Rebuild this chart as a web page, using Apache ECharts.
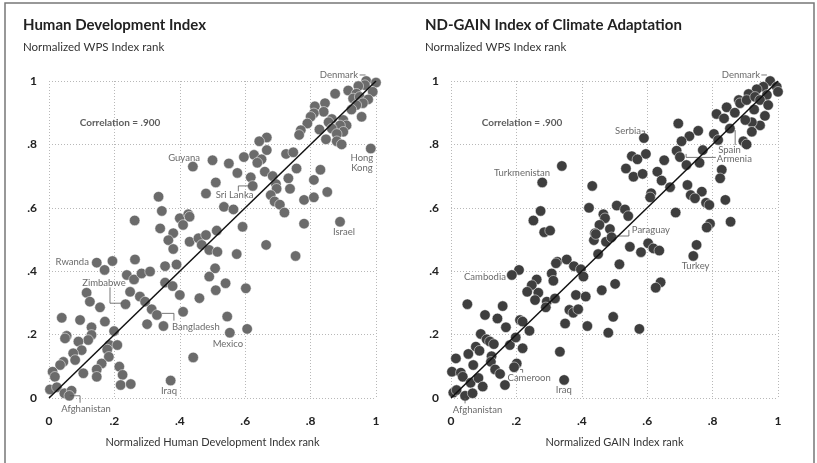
<!DOCTYPE html>
<html>
<head>
<meta charset="utf-8">
<script src="https://cdn.jsdelivr.net/npm/echarts@6/dist/echarts.min.js"></script>
<style>
html,body{margin:0;padding:0;background:#fff;}
#chart{width:817px;height:463px;}
</style>
</head>
<body>
<div id="chart"></div>
<script>
// ---- Data ----
const tickValues = [0, 0.2, 0.4, 0.6, 0.8, 1];
const tickLabels = ['0', '.2', '.4', '.6', '.8', '1'];

const hdiX = [0.44,0.50,0.55,0.51,0.48,0.335,0.345,0.262,0.40,0.426,0.43,0.41,0.34,0.38,0.513,
0.97,1.0,0.99,0.966,0.946,0.915,0.875,0.94,0.93,0.95,0.976,0.96,0.94,0.925,0.956,0.844,0.813,0.84,0.81,0.80,0.79,0.77,0.765,0.865,0.855,0.90,0.91,0.89,0.865,0.827,0.90,0.88,0.847,0.88,0.895,0.984,
0.666,0.643,0.666,0.725,0.747,0.627,0.596,0.65,0.637,0.576,0.66,0.684,0.757,0.617,0.83,0.81,0.732,0.694,0.696,0.623,0.737,0.851,0.678,0.69,0.706,0.72,0.78,0.81,0.535,0.564,0.78,0.592,0.89,
0.146,0.194,0.17,0.263,0.238,0.26,0.283,0.309,0.355,0.39,0.365,0.38,0.43,0.457,0.48,0.467,0.49,0.515,0.508,0.49,0.54,0.51,0.355,0.378,0.40,0.46,0.41,0.248,0.278,0.294,0.314,0.33,0.30,0.35,0.234,
0.115,0.125,0.156,0.171,0.095,0.039,0.13,0.13,0.12,0.09,0.054,0.049,0.10,0.074,0.08,0.044,0.034,0.011,0.018,0.105,0.003,0.024,0.047,0.069,0.062,
0.185,0.178,0.183,0.209,0.199,0.161,0.146,0.146,0.215,0.225,0.219,0.25,0.372,0.441,
0.664,0.754,0.574,0.602,0.545,0.606,0.553];
const hdiY = [0.73,0.75,0.74,0.68,0.645,0.635,0.59,0.56,0.567,0.58,0.572,0.546,0.535,0.52,0.528,
1.0,0.995,0.966,0.987,0.984,0.97,0.96,0.96,0.945,0.95,0.942,0.93,0.924,0.91,0.887,0.93,0.92,0.903,0.898,0.887,0.866,0.845,0.83,0.88,0.87,0.877,0.86,0.86,0.85,0.847,0.84,0.833,0.816,0.81,0.80,0.787,
0.822,0.81,0.782,0.77,0.775,0.767,0.76,0.753,0.742,0.71,0.714,0.70,0.724,0.696,0.72,0.688,0.693,0.675,0.66,0.669,0.66,0.65,0.64,0.62,0.61,0.585,0.625,0.633,0.603,0.595,0.55,0.54,0.556,
0.427,0.432,0.404,0.437,0.388,0.374,0.393,0.399,0.416,0.421,0.498,0.47,0.493,0.504,0.514,0.483,0.467,0.461,0.409,0.383,0.362,0.34,0.364,0.353,0.325,0.315,0.272,0.335,0.32,0.304,0.28,0.262,0.233,0.227,0.296,
0.332,0.304,0.286,0.241,0.246,0.253,0.223,0.199,0.183,0.178,0.196,0.188,0.151,0.141,0.12,0.114,0.104,0.083,0.067,0.078,0.027,0.034,0.015,0.023,0.007,
0.167,0.153,0.13,0.167,0.211,0.109,0.09,0.067,0.099,0.073,0.041,0.044,0.055,0.128,
0.483,0.448,0.454,0.346,0.257,0.218,0.206];

const gainX = [0.339,0.279,0.432,0.422,0.507,0.274,0.252,0.285,0.303,0.466,0.471,0.454,0.486,0.44,
0.976,0.996,1.0,0.955,0.935,0.91,0.88,0.884,0.904,0.93,0.966,0.945,0.97,0.927,0.96,0.945,0.92,0.90,0.92,0.894,0.904,0.843,0.868,0.812,0.835,0.853,0.804,0.817,0.77,
0.695,0.756,0.729,0.705,0.59,0.69,0.70,0.72,0.76,0.652,0.596,0.553,0.57,0.535,0.558,0.586,0.631,0.644,0.828,0.823,0.67,0.723,0.767,0.612,0.609,0.733,0.746,0.78,0.79,0.839,0.532,0.542,0.687,0.855,0.792,0.782,
0.547,0.581,0.603,0.619,0.637,0.751,0.741,0.515,0.502,0.461,0.641,0.626,0.496,0.481,0.576,0.474,0.491,
0.437,0.443,0.45,0.208,0.186,0.325,0.354,0.321,0.376,0.397,0.405,0.308,0.313,0.262,0.247,0.233,0.267,0.257,0.293,0.318,0.29,0.382,0.412,0.362,0.374,0.389,0.349,0.417,
0.05,0.158,0.104,0.142,0.168,0.211,0.219,0.24,0.091,0.109,0.119,0.131,0.076,0.087,0.053,0.18,0.198,0.219,0.124,0.122,0.015,0.068,0.135,0.15,0.201,0.193,
0.003,0.03,0.036,0.06,0.084,0.097,0.165,0.333,0.346,0.007,0.017,0.043,0.066];
const gainY = [0.732,0.68,0.669,0.60,0.607,0.59,0.56,0.523,0.528,0.58,0.567,0.546,0.533,0.52,
1.0,0.982,0.966,0.982,0.974,0.959,0.94,0.93,0.94,0.95,0.956,0.94,0.924,0.91,0.89,0.86,0.87,0.877,0.84,0.81,0.80,0.917,0.90,0.896,0.882,0.85,0.833,0.814,0.782,
0.866,0.843,0.826,0.81,0.82,0.78,0.76,0.735,0.742,0.75,0.77,0.763,0.753,0.724,0.698,0.707,0.714,0.686,0.72,0.693,0.665,0.672,0.651,0.646,0.633,0.64,0.63,0.616,0.609,0.625,0.595,0.574,0.585,0.556,0.55,0.538,
0.477,0.46,0.488,0.472,0.465,0.483,0.448,0.422,0.36,0.34,0.365,0.348,0.256,0.206,0.218,0.493,0.507,
0.498,0.517,0.454,0.404,0.388,0.43,0.437,0.425,0.416,0.406,0.383,0.393,0.37,0.374,0.356,0.335,0.332,0.309,0.304,0.314,0.286,0.325,0.32,0.278,0.269,0.28,0.235,0.227,
0.296,0.29,0.262,0.251,0.223,0.246,0.241,0.212,0.202,0.185,0.178,0.17,0.162,0.149,0.139,0.167,0.191,0.157,0.132,0.114,0.125,0.104,0.09,0.076,0.109,0.097,
0.083,0.08,0.067,0.048,0.063,0.036,0.041,0.146,0.057,0.017,0.025,0.007,0.015];

// Country annotations: text anchor (data units), alignment, optional leader path
const hdiNotes = [
  {name:'Denmark', x:0.945, y:1.019, align:'right', path:[[0.95,1.019],[0.968,1.019]]},
  {name:'Guyana', x:0.413, y:0.757, align:'center'},
  {name:'Sri Lanka', x:0.51, y:0.64, align:'left', path:[[0.579,0.652],[0.579,0.669],[0.612,0.669]]},
  {name:'Hong\nKong', x:0.957, y:0.741, align:'center'},
  {name:'Israel', x:0.902, y:0.524, align:'center'},
  {name:'Rwanda', x:0.122, y:0.428, align:'right'},
  {name:'Zimbabwe', x:0.168, y:0.362, align:'center', path:[[0.1865,0.349],[0.1865,0.299],[0.222,0.299]]},
  {name:'Bangladesh', x:0.376, y:0.223, align:'left', path:[[0.345,0.267],[0.382,0.267],[0.382,0.244]]},
  {name:'Mexico', x:0.547, y:0.172, align:'center'},
  {name:'Iraq', x:0.367, y:0.022, align:'center'},
  {name:'Afghanistan', x:0.113, y:-0.035, align:'center', path:[[0.064,0.007],[0.095,0.007],[0.095,-0.015]]}
];
const gainNotes = [
  {name:'Denmark', x:0.945, y:1.019, align:'right', path:[[0.949,1.019],[0.966,1.019]]},
  {name:'Serbia', x:0.581, y:0.842, align:'right', path:[[0.583,0.842],[0.592,0.842],[0.592,0.83]]},
  {name:'Spain', x:0.817, y:0.782, align:'left', path:[[0.869,0.845],[0.869,0.798]]},
  {name:'Armenia', x:0.813, y:0.753, align:'left', path:[[0.719,0.77],[0.719,0.759],[0.81,0.759]]},
  {name:'Turkmenistan', x:0.217, y:0.709, align:'center'},
  {name:'Paraguay', x:0.553, y:0.53, align:'left', path:[[0.495,0.511],[0.544,0.511],[0.544,0.53]]},
  {name:'Cambodia', x:0.168, y:0.383, align:'right'},
  {name:'Turkey', x:0.748, y:0.417, align:'center'},
  {name:'Cameroon', x:0.239, y:0.062, align:'center', path:[[0.211,0.09],[0.219,0.09],[0.219,0.08]]},
  {name:'Iraq', x:0.345, y:0.025, align:'center'},
  {name:'Afghanistan', x:0.081, y:-0.038, align:'center', path:[[0.043,0.0],[0.043,-0.017]]}
];

const titles = ['Human Development Index', 'ND-GAIN Index of Climate Adaptation'];
const subtitles = ['Normalized WPS Index rank', 'Normalized WPS Index rank'];
const xNames = ['Normalized Human Development Index rank', 'Normalized GAIN Index rank'];
const corrText = 'Correlation = .900';
const corrPos = [0.217, 0.868];

// ---- Build ----
const FONT = 'Lato, "Open Sans", sans-serif';
const fmt = v => { const i = tickValues.findIndex(t => Math.abs(t - v) < 1e-9); return i >= 0 ? tickLabels[i] : ''; };

function zip(a, b) { return a.map((v, i) => [v, b[i]]); }

const gridLine = {show: true, lineStyle: {type: [1, 2], color: '#b8b8b8', width: 1}};

function axisX(idx) {
  return {
    gridIndex: idx, type: 'value', min: 0, max: 1, interval: 0.2,
    axisLine: {show: false}, axisTick: {show: false},
    axisLabel: {formatter: fmt, margin: 17, color: '#222', fontFamily: FONT, fontWeight: 'bold', fontSize: 12},
    splitLine: gridLine,
    name: xNames[idx], nameLocation: 'middle', nameGap: 39,
    nameTextStyle: {color: '#333', fontFamily: FONT, fontSize: 11}
  };
}
function axisY(idx) {
  return {
    gridIndex: idx, type: 'value', min: 0, max: 1, interval: 0.2,
    axisLine: {show: false}, axisTick: {show: false},
    axisLabel: {formatter: fmt, margin: 12, color: '#222', fontFamily: FONT, fontWeight: 'bold', fontSize: 12},
    splitLine: gridLine
  };
}

const series = [];
[[hdiX, hdiY, hdiNotes, '#6b6b6b'], [gainX, gainY, gainNotes, '#3e3e3e']].forEach(([xs, ys, notes, col], i) => {
  series.push({
    type: 'scatter', xAxisIndex: i, yAxisIndex: i, data: zip(xs, ys),
    symbolSize: 10.5, itemStyle: {color: col, opacity: 1, borderColor: '#fff', borderWidth: 0.5},
    z: 2, silent: true
  });
  series.push({
    type: 'line', xAxisIndex: i, yAxisIndex: i, data: [[0, 0], [1, 1]],
    symbol: 'none', lineStyle: {color: '#111', width: 1.5}, z: 4, silent: true
  });
  series.push({
    type: 'lines', coordinateSystem: 'cartesian2d', xAxisIndex: i, yAxisIndex: i, polyline: true,
    clip: false, silent: true, z: 3,
    lineStyle: {color: '#555', width: 0.8, opacity: 1},
    data: notes.filter(n => n.path).map(n => ({coords: n.path}))
  });
  const textData = notes.map(n => ({
    name: n.name, value: [n.x, n.y],
    label: {align: n.align}
  }));
  textData.push({name: corrText, value: corrPos, label: {align: 'center', fontWeight: 'bold', fontSize: 10, color: '#333'}});
  series.push({
    type: 'scatter', xAxisIndex: i, yAxisIndex: i, symbolSize: 0, clip: false, silent: true, z: 5,
    data: textData,
    label: {show: true, position: [0, 0], verticalAlign: 'middle', formatter: p => p.name,
      color: '#444', fontFamily: FONT, fontSize: 9.5, lineHeight: 10}
  });
});

const option = {
  backgroundColor: '#fff',
  animation: false,
  title: [0, 1].map(i => ({
    text: titles[i], subtext: subtitles[i],
    left: i === 0 ? 23 : 425, top: 16, padding: 0, itemGap: 6,
    textStyle: {fontFamily: FONT, fontWeight: 'bold', fontSize: 15, lineHeight: 18, color: '#222'},
    subtextStyle: {fontFamily: FONT, fontSize: 11.5, lineHeight: 14, color: '#333'}
  })),
  grid: [
    {left: 49, right: 441, top: 81, bottom: 65},
    {left: 451, right: 39, top: 81, bottom: 65}
  ],
  xAxis: [axisX(0), axisX(1)],
  yAxis: [axisY(0), axisY(1)],
  series: series,
  graphic: [{
    type: 'rect', silent: true, z: 100,
    shape: {x: 5, y: 3, width: 809, height: 480},
    style: {fill: 'none', stroke: '#777', lineWidth: 1.5}
  }]
};

const chart = echarts.init(document.getElementById('chart'), null, {renderer: 'canvas'});
chart.setOption(option);
</script>
</body>
</html>
